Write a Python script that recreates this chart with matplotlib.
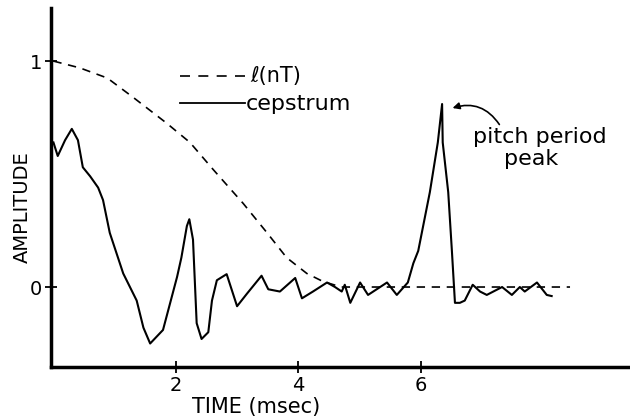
import matplotlib.pyplot as plt

# cepstrum curve (time in msec, amplitude)
cep_t = [0.0, 0.07, 0.19, 0.30, 0.40, 0.48, 0.60, 0.73, 0.81, 0.92, 1.14, 1.36, 1.47, 1.58,
         1.79, 2.02, 2.09, 2.18, 2.22, 2.28, 2.34, 2.42, 2.53, 2.59, 2.67, 2.83, 3.00, 3.16,
         3.40, 3.51, 3.70, 3.95, 4.06, 4.24, 4.47, 4.60, 4.71, 4.76, 4.85, 5.01, 5.14, 5.45,
         5.61, 5.79, 5.88, 5.96, 6.15, 6.28, 6.35, 6.36, 6.45, 6.51, 6.56, 6.64, 6.72, 6.85,
         6.97, 7.08, 7.33, 7.49, 7.62, 7.70, 7.90, 8.06, 8.14]
cep_a = [0.64, 0.58, 0.65, 0.70, 0.65, 0.53, 0.49, 0.44, 0.385, 0.24, 0.06, -0.06, -0.18, -0.25,
         -0.19, 0.045, 0.13, 0.27, 0.30, 0.21, -0.16, -0.23, -0.20, -0.06, 0.03, 0.057, -0.085, -0.03,
         0.05, -0.01, -0.02, 0.04, -0.05, -0.02, 0.02, 0.0, -0.02, 0.01, -0.07, 0.02, -0.035, 0.02,
         -0.035, 0.02, 0.105, 0.16, 0.42, 0.64, 0.81, 0.64, 0.42, 0.16, -0.07, -0.07, -0.06, 0.01,
         -0.02, -0.035, 0.0, -0.035, 0.0, -0.02, 0.02, -0.035, -0.04]

# lifter window l(nT)
win_t = [0.0, 0.43, 0.88, 1.30, 1.85, 2.23, 2.61, 3.10, 3.49, 3.81, 4.14, 4.40, 4.70, 8.44]
win_a = [1.0, 0.97, 0.925, 0.84, 0.725, 0.64, 0.52, 0.37, 0.24, 0.13, 0.06, 0.025, 0.0, 0.0]

x_ticks = [2, 4, 6]
y_ticks = [0, 1]

plt.rcParams['font.family'] = ['DejaVu Sans']

fig = plt.figure(figsize=(6.3, 4.17), dpi=100)
ax = fig.add_axes([51 / 630, 50 / 417, 579 / 630, 359 / 417])

ax.plot(cep_t, cep_a, color='black', lw=1.5, solid_joinstyle='round')
ax.plot(win_t, win_a, color='black', lw=1.2, linestyle=(0, (5, 4)))

ax.set_xlim(-0.04, 9.42)
ax.set_ylim(-0.354, 1.235)

for s in ['top', 'right']:
    ax.spines[s].set_visible(False)
for s in ['left', 'bottom']:
    ax.spines[s].set_linewidth(2.5)

ax.set_xticks(x_ticks)
ax.set_xticklabels([str(v) for v in x_ticks], fontsize=14)
ax.set_yticks(y_ticks)
ax.set_yticklabels([str(v) for v in y_ticks], fontsize=14)
ax.tick_params(direction='inout', length=9, width=1.3, pad=2)

ax.set_xlabel('TIME (msec)', fontsize=15)
ax.xaxis.set_label_coords(0.354, -0.111)
ax.set_ylabel('AMPLITUDE', fontsize=14)
ax.yaxis.set_label_coords(-0.05, 0.446)
ax.xaxis.label.set_va('center')
ax.yaxis.label.set_va('center')

# hand drawn legend
ax.plot([0.223, 0.341], [0.811, 0.811], transform=ax.transAxes, color='black',
        lw=1.2, linestyle=(0, (6, 5)))
ax.text(0.345, 0.811, 'ℓ(nT)', transform=ax.transAxes, fontsize=15, va='center')
ax.plot([0.223, 0.335], [0.735, 0.735], transform=ax.transAxes, color='black', lw=1.3)
ax.text(0.336, 0.733, 'cepstrum', transform=ax.transAxes, fontsize=16, va='center')

# note on the peak
ax.text(0.729, 0.641, 'pitch period', transform=ax.transAxes, fontsize=16, va='center')
ax.text(0.829, 0.580, 'peak', transform=ax.transAxes, fontsize=16, va='center', ha='center')
ax.annotate('', xy=(0.689, 0.719), xytext=(0.777, 0.669), xycoords='axes fraction',
            arrowprops=dict(arrowstyle='-|>', color='black', lw=1.2,
                            connectionstyle='arc3,rad=0.4', mutation_scale=10))

fig.savefig('out.png', dpi=100)
